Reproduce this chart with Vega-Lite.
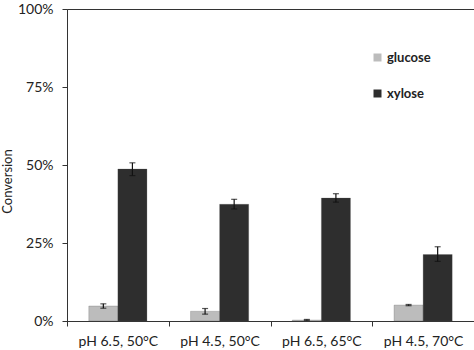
{
  "$schema": "https://vega.github.io/schema/vega-lite/v6.json",
  "width": 407,
  "height": 312,
  "autosize": "none",
  "padding": {"left": 67, "top": 9, "right": 0, "bottom": 29},
  "background": "white",
  "config": {
    "view": {"stroke": "#333333", "strokeWidth": 1},
    "font": "Lato"
  },
  "data": {
    "values": [
      {"cond": "pH 6.5, 50°C", "sugar": "glucose", "value": 0.048, "lo": 0.041, "hi": 0.055},
      {"cond": "pH 6.5, 50°C", "sugar": "xylose", "value": 0.487, "lo": 0.466, "hi": 0.507},
      {"cond": "pH 4.5, 50°C", "sugar": "glucose", "value": 0.031, "lo": 0.022, "hi": 0.040},
      {"cond": "pH 4.5, 50°C", "sugar": "xylose", "value": 0.374, "lo": 0.359, "hi": 0.390},
      {"cond": "pH 6.5, 65°C", "sugar": "glucose", "value": 0.003, "lo": 0.002, "hi": 0.005},
      {"cond": "pH 6.5, 65°C", "sugar": "xylose", "value": 0.394, "lo": 0.381, "hi": 0.408},
      {"cond": "pH 4.5, 70°C", "sugar": "glucose", "value": 0.051, "lo": 0.049, "hi": 0.053},
      {"cond": "pH 4.5, 70°C", "sugar": "xylose", "value": 0.213, "lo": 0.191, "hi": 0.238}
    ]
  },
  "encoding": {
    "x": {
      "field": "cond", "type": "nominal", "sort": null,
      "scale": {"paddingInner": 0, "paddingOuter": 0},
      "axis": {
        "title": null, "labelAngle": 0, "tickBand": "extent",
        "domainColor": "#333333", "tickColor": "#333333", "tickSize": 5,
        "labelFontSize": 14, "labelColor": "#222222", "labelPadding": 8,
        "labelBaseline": "top"
      }
    },
    "xOffset": {
      "field": "sugar", "type": "nominal",
      "scale": {"paddingInner": 0, "paddingOuter": 0.75}
    }
  },
  "layer": [
    {
      "mark": {"type": "bar", "stroke": "#555555", "strokeWidth": 0.5, "strokeOpacity": 0.5},
      "encoding": {
        "y": {
          "field": "value", "type": "quantitative",
          "scale": {"domain": [0, 1], "nice": false},
          "axis": {
            "title": "Conversion", "values": [0, 0.25, 0.5, 0.75, 1], "format": ".0%",
            "grid": false, "domainColor": "#333333", "tickColor": "#333333", "tickSize": 5,
            "labelFontSize": 14, "labelColor": "#222222", "labelPadding": 9,
            "titleFontSize": 13, "titleFontWeight": "normal", "titleColor": "#222222",
            "titleY": 172, "titlePadding": 3
          }
        },
        "color": {
          "field": "sugar", "type": "nominal",
          "scale": {"domain": ["glucose", "xylose"], "range": ["#bcbcbc", "#2e2e2e"]},
          "legend": {
            "title": null, "orient": "none", "legendX": 304, "legendY": 42,
            "symbolType": "square", "symbolSize": 64, "symbolStrokeWidth": 0,
            "labelFontSize": 13, "labelFontWeight": "bold", "labelColor": "#222222",
            "rowPadding": 22, "labelOffset": 3
          }
        }
      }
    },
    {
      "mark": {"type": "rule", "color": "#111111", "strokeWidth": 1.2},
      "encoding": {
        "y": {"field": "lo", "type": "quantitative"},
        "y2": {"field": "hi"}
      }
    },
    {
      "mark": {"type": "tick", "color": "#111111", "thickness": 1.2, "size": 6},
      "encoding": {"y": {"field": "lo", "type": "quantitative"}}
    },
    {
      "mark": {"type": "tick", "color": "#111111", "thickness": 1.2, "size": 6},
      "encoding": {"y": {"field": "hi", "type": "quantitative"}}
    }
  ]
}
